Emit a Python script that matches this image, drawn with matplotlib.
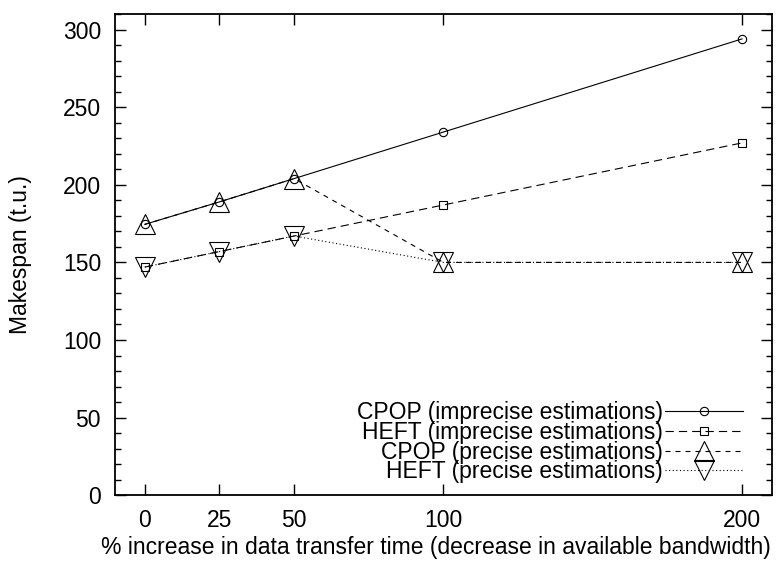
import matplotlib
matplotlib.use("Agg")
import matplotlib.pyplot as plt
from matplotlib.ticker import MultipleLocator

# Percentage increase in data transfer time
increase = [0, 25, 50, 100, 200]

# Makespan (time units) for each scheduler / estimation mode
cpop_imprecise = [174.5, 189, 204, 234, 294]
heft_imprecise = [147, 157, 167, 187, 227]
cpop_precise = [174.5, 189, 204, 150, 150]
heft_precise = [147, 157, 167, 150, 150]

labels = [
    "CPOP (imprecise estimations)",
    "HEFT (imprecise estimations)",
    "CPOP (precise estimations)",
    "HEFT (precise estimations)",
]

plt.rcParams["font.family"] = ["Liberation Sans", "DejaVu Sans"]
plt.rcParams["lines.scale_dashes"] = False

fig = plt.figure(figsize=(7.82, 5.64), dpi=100)
ax = fig.add_axes([0.147, 0.122, 0.84, 0.853])

lw = 0.8
ax.plot(increase, cpop_imprecise, color="black", lw=lw, ls="-",
        marker="o", ms=6, mfc="none", mec="black", mew=0.8, label=labels[0])
ax.plot(increase, heft_imprecise, color="black", lw=lw, ls=(0, (6, 3.6)),
        marker="s", ms=5.5, mfc="none", mec="black", mew=0.8, label=labels[1])
ax.plot(increase, cpop_precise, color="black", lw=lw, ls=(0, (3.6, 3.6)),
        marker="^", ms=14, mfc="none", mec="black", mew=0.8, label=labels[2])
ax.plot(increase, heft_precise, color="black", lw=lw, ls=(0, (0.8, 1.8)),
        marker="v", ms=14, mfc="none", mec="black", mew=0.8, label=labels[3])

ax.set_xlim(-10, 210)
ax.set_ylim(0, 310)
ax.set_xticks(increase)
ax.set_xticklabels([str(v) for v in increase])
ax.yaxis.set_major_locator(MultipleLocator(50))
ax.yaxis.set_minor_locator(MultipleLocator(10))

fs = 16.5
ax.tick_params(axis="both", which="both", direction="in", top=True, right=True,
               labelsize=fs, width=1)
ax.tick_params(axis="both", which="major", length=8)
ax.tick_params(axis="both", which="minor", length=4)
ax.tick_params(axis="x", pad=10)
ax.tick_params(axis="y", pad=10)
for s in ax.spines.values():
    s.set_linewidth(1.3)

ax.set_ylabel("Makespan (t.u.)", fontsize=fs, labelpad=22)
ax.set_xlabel("% increase in data transfer time (decrease in available bandwidth)",
              fontsize=fs, labelpad=7)
ax.xaxis.set_label_coords(0.489, -0.085)

fs_px = fs * 100 / 72
leg = ax.legend(loc="lower right", frameon=False, markerfirst=False,
                fontsize=fs, handlelength=78 / fs_px, handletextpad=0.1,
                labelspacing=-0.15, borderaxespad=0, borderpad=0,
                bbox_to_anchor=(0.956, 0.025))

fig.savefig("out.png", dpi=100)
